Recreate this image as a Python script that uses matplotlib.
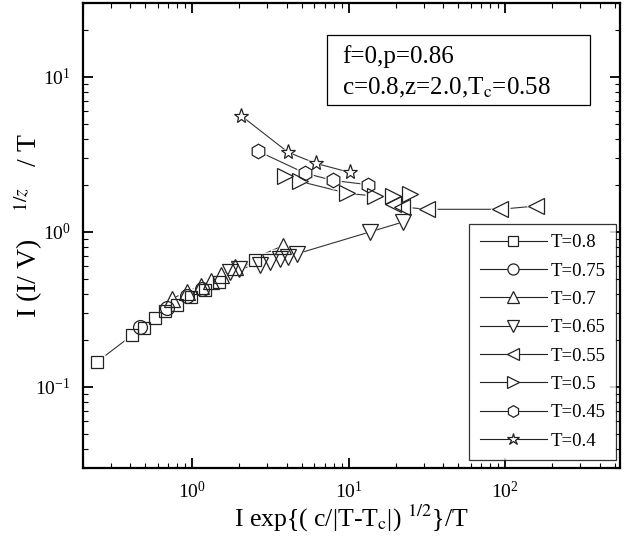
import matplotlib
matplotlib.use("Agg")
import matplotlib.pyplot as plt
from matplotlib.lines import Line2D
from matplotlib.patches import Rectangle
from matplotlib.ticker import LogLocator, NullFormatter

plt.rcParams["font.family"] = ["Liberation Serif", "DejaVu Serif"]
plt.rcParams["mathtext.fontset"] = "stix"

# scaled data, one pair of lists per temperature
LABELS  = ["T=0.8", "T=0.75", "T=0.7", "T=0.65", "T=0.55", "T=0.5", "T=0.45", "T=0.4"]
MARKERS = ["s", "o", "^", "v", "<", ">", "h", "*"]
SIZES   = [9.0, 10.0, 11.0, 11.0, 11.0, 11.0, 10.5, 11.0]

x_t080 = [0.246, 0.412, 0.492, 0.579, 0.671, 0.801, 0.985, 1.21, 1.49, 2.50]
y_t080 = [0.145, 0.216, 0.239, 0.277, 0.307, 0.340, 0.383, 0.425, 0.478, 0.662]

x_t075 = [0.464, 0.691, 0.929, 1.16]
y_t075 = [0.242, 0.321, 0.389, 0.431]

x_t070 = [0.744, 0.929, 1.14, 1.32, 1.53, 1.86, 3.77]
y_t070 = [0.372, 0.412, 0.451, 0.485, 0.530, 0.597, 0.813]

x_t065 = [1.73, 2.00, 2.69, 3.12, 3.61, 4.06, 4.64, 13.6, 22.2]
y_t065 = [0.554, 0.579, 0.614, 0.642, 0.671, 0.691, 0.722, 1.00, 1.16]

x_t055 = [19.1, 21.9, 31.6, 92.9, 156.0]
y_t055 = [1.51, 1.45, 1.40, 1.40, 1.47]

x_t050 = [3.89, 4.85, 9.7, 14.7, 19.1, 24.6]
y_t050 = [2.29, 2.12, 1.78, 1.70, 1.70, 1.75]

x_t045 = [2.61, 5.22, 7.89, 13.2]
y_t045 = [3.33, 2.40, 2.15, 2.02]

x_t040 = [2.05, 4.08, 6.14, 10.2]
y_t040 = [5.62, 3.27, 2.77, 2.42]

XS = [x_t080, x_t075, x_t070, x_t065, x_t055, x_t050, x_t045, x_t040]
YS = [y_t080, y_t075, y_t070, y_t065, y_t055, y_t050, y_t045, y_t040]

fig = plt.figure(figsize=(6.24, 5.41), dpi=100)
ax = fig.add_axes([83 / 624, 1 - 468 / 541, 537 / 624, 465 / 541])

handles = []
for xs, ys, mk, ms, lab in zip(XS, YS, MARKERS, SIZES, LABELS):
    # connecting line, then a white mask so the line stops short of each marker
    ax.plot(xs, ys, color="#333333", lw=0.8, zorder=1)
    ax.plot(xs, ys, ls="none", marker=mk, ms=ms + 3, mfc="white", mec="none", zorder=2)
    ax.plot(xs, ys, ls="none", marker=mk, ms=ms, mfc="none", mec="#222222", mew=0.9, zorder=3)
    handles.append(Line2D([], [], color="#222222", lw=0.8, marker=mk, ms=ms * 0.8,
                          mfc="white", mec="#222222", mew=0.9, label=lab))

ax.set_xscale("log")
ax.set_yscale("log")
ax.set_xlim(0.2, 540)
ax.set_ylim(0.03, 30)

for axis in (ax.xaxis, ax.yaxis):
    axis.set_major_locator(LogLocator(base=10, numticks=10))
    axis.set_minor_locator(LogLocator(base=10, subs=range(2, 10), numticks=10))
    axis.set_minor_formatter(NullFormatter())

ax.tick_params(which="both", direction="in", top=True, right=True, labelsize=14)
ax.tick_params(which="major", length=7, width=1.3, pad=9)
ax.tick_params(which="minor", length=3.5, width=0.8)
for sp in ax.spines.values():
    sp.set_linewidth(1.6)

ax.set_xlabel(r"I exp{( c/|T-T$_{\rm c}$|) $^{1/2}$}/T", fontsize=18.5)
ax.set_ylabel(r"I (I/ V)    $^{1/z}$   / T", fontsize=20)
ax.xaxis.set_label_coords(0.5, -0.075)
ax.yaxis.set_label_coords(-0.071, 0.52)

leg = ax.legend(handles=handles, loc="lower right", bbox_to_anchor=(0.993, 0.017),
                borderaxespad=0, fancybox=False, frameon=True, fontsize=13.5,
                handlelength=3.6, handletextpad=0.2, labelspacing=0.6, numpoints=1,
                borderpad=0.55)
leg.get_frame().set_edgecolor("black")
leg.get_frame().set_linewidth(0.9)

# parameter box
ax.add_patch(Rectangle((0.454, 0.781), 0.49, 0.15, transform=ax.transAxes,
                       fill=False, edgecolor="black", lw=0.9, zorder=4))
ax.text(0.482, 0.886, "f=0,p=0.86", transform=ax.transAxes, fontsize=18, va="center")
ax.text(0.482, 0.817, r"c=0.8,z=2.0,T$_{\rm c}$=0.58", transform=ax.transAxes,
        fontsize=18, va="center")

fig.savefig("out.png", dpi=100)
